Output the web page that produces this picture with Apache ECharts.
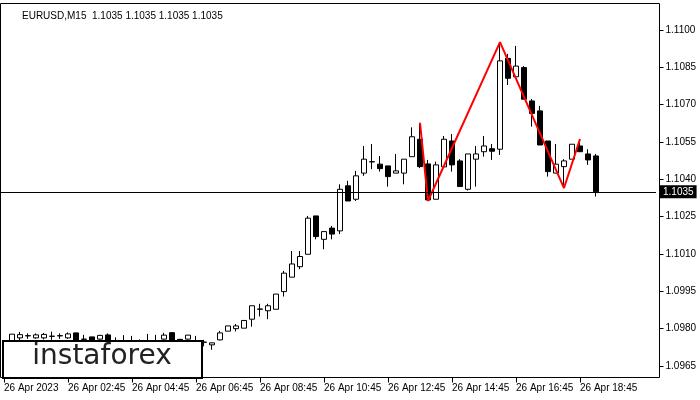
<!DOCTYPE html>
<html><head><meta charset="utf-8">
<script src="https://cdn.jsdelivr.net/npm/echarts@6/dist/echarts.min.js"></script>
<style>html,body{margin:0;padding:0;background:#fff}#c{width:700px;height:400px}</style>
</head><body><div id="c"></div>
<script>
const symbolTitle = 'EURUSD,M15  1.1035 1.1035 1.1035 1.1035';
const tickLabels = ['26 Apr 2023','26 Apr 02:45','26 Apr 04:45','26 Apr 06:45','26 Apr 08:45',
  '26 Apr 10:45','26 Apr 12:45','26 Apr 14:45','26 Apr 16:45','26 Apr 18:45'];
const barsPerTick = 8;
const categoryCount = 82;
const yMin = 1.0965, yMax = 1.1100, yStep = 0.0015;
const lastPrice = 1.1035;
// [open, close, low, high]
const candles = [
  '-',
  [1.09751,1.09778,1.09748,1.09778],
  [1.09763,1.09776,1.09753,1.09787],
  [1.09771,1.09772,1.09759,1.09781],
  [1.09763,1.09775,1.09759,1.09781],
  [1.09763,1.09777,1.09757,1.09783],
  [1.09769,1.09770,1.09755,1.09788],
  [1.09771,1.09772,1.09759,1.09781],
  [1.09763,1.09779,1.09759,1.09785],
  [1.09783,1.09751,1.09749,1.09784],
  [1.09757,1.09758,1.09755,1.09775],
  [1.09767,1.09753,1.09750,1.09767],
  [1.09758,1.09773,1.09755,1.09775],
  [1.09775,1.09753,1.09750,1.09781],
  [1.09750,1.09748,1.09740,1.09765],
  [1.09750,1.09748,1.09740,1.09774],
  [1.09750,1.09748,1.09740,1.09771],
  [1.09752,1.09750,1.09742,1.09757],
  [1.09750,1.09748,1.09740,1.09779],
  [1.09750,1.09752,1.09740,1.09775],
  [1.09758,1.09774,1.09755,1.09783],
  [1.09784,1.09752,1.09750,1.09785],
  [1.09757,1.09755,1.09750,1.09759],
  [1.09758,1.09774,1.09755,1.09774],
  [1.09752,1.09750,1.09745,1.09771],
  [1.09745,1.09746,1.09729,1.09755],
  [1.09735,1.09743,1.09715,1.09745],
  [1.09755,1.09783,1.09753,1.09791],
  [1.09790,1.09811,1.09790,1.09811],
  [1.09800,1.09811,1.09789,1.09819],
  [1.09802,1.09833,1.09802,1.09833],
  [1.09838,1.09892,1.09808,1.09892],
  [1.09878,1.09879,1.09849,1.09900],
  [1.09872,1.09892,1.09838,1.09900],
  [1.09878,1.09939,1.09878,1.09939],
  [1.09949,1.10023,1.09929,1.10032],
  [1.10007,1.10060,1.10007,1.10112],
  [1.10049,1.10090,1.10039,1.10112],
  [1.10099,1.10244,1.10099,1.10253],
  [1.10253,1.10170,1.10159,1.10253],
  [1.10159,1.10190,1.10119,1.10190],
  [1.10204,1.10180,1.10159,1.10213],
  [1.10193,1.10360,1.10180,1.10380],
  [1.10374,1.10313,1.10313,1.10394],
  [1.10320,1.10414,1.10313,1.10434],
  [1.10425,1.10481,1.10414,1.10534],
  [1.10470,1.10471,1.10441,1.10542],
  [1.10461,1.10443,1.10431,1.10494],
  [1.10454,1.10411,1.10371,1.10454],
  [1.10425,1.10434,1.10425,1.10502],
  [1.10425,1.10481,1.10380,1.10481],
  [1.10491,1.10571,1.10491,1.10609],
  [1.10561,1.10451,1.10445,1.10627],
  [1.10462,1.10317,1.10313,1.10478],
  [1.10320,1.10458,1.10320,1.10471],
  [1.10450,1.10561,1.10450,1.10574],
  [1.10554,1.10458,1.10431,1.10582],
  [1.10474,1.10371,1.10371,1.10481],
  [1.10360,1.10502,1.10355,1.10502],
  [1.10481,1.10502,1.10371,1.10534],
  [1.10511,1.10534,1.10491,1.10574],
  [1.10523,1.10513,1.10478,1.10542],
  [1.10521,1.10876,1.10498,1.10951],
  [1.10886,1.10806,1.10779,1.10904],
  [1.10812,1.10855,1.10812,1.10936],
  [1.10849,1.10722,1.10722,1.10855],
  [1.10715,1.10665,1.10612,1.10723],
  [1.10675,1.10538,1.10538,1.10695],
  [1.10554,1.10431,1.10411,1.10554],
  [1.10425,1.10461,1.10425,1.10542],
  [1.10451,1.10474,1.10365,1.10481],
  [1.10481,1.10541,1.10481,1.10541],
  [1.10534,1.10511,1.10511,1.10562],
  [1.10502,1.10478,1.10458,1.10521],
  [1.10494,1.10350,1.10331,1.10502]
];
// zigzag pattern: [bar index, price]
const pattern = [[52,1.10627],[53,1.10313],[62,1.10951],[70,1.10365],[72,1.10562]];
const logoText = 'instaforex';

const categories = [];
for (let i = 0; i < categoryCount; i++) categories.push(String(i));
const isTick = (idx) => idx % barsPerTick === 0 && idx / barsPerTick < tickLabels.length;
const FONT = 'Liberation Sans';

const chart = echarts.init(document.getElementById('c'), null, {renderer: 'canvas'});
chart.setOption({
  animation: false,
  backgroundColor: '#ffffff',
  title: {
    text: symbolTitle, left: 17, top: 6,
    textStyle: {fontSize: 10, fontWeight: 'normal', color: '#000', fontFamily: FONT}
  },
  grid: {left: 0, top: 30, width: 656, height: 336, show: false},
  xAxis: {
    type: 'category', data: categories, boundaryGap: true, offset: 11.5,
    axisLine: {show: false},
    axisTick: {show: true, interval: (i) => isTick(i), alignWithLabel: true, length: 5, lineStyle: {color: '#000'}},
    axisLabel: {
      interval: (i) => isTick(i), align: 'left', margin: 6,
      formatter: (v, i) => isTick(i) ? tickLabels[i / barsPerTick] : '',
      color: '#000', fontSize: 10, fontFamily: FONT
    },
    splitLine: {show: false}
  },
  yAxis: {
    type: 'value', position: 'right', min: yMin, max: yMax, interval: yStep, offset: 3.5,
    axisLine: {show: false},
    axisTick: {show: true, length: 4, lineStyle: {color: '#000'}},
    axisLabel: {formatter: (v) => v.toFixed(4), color: '#000', fontSize: 10, fontFamily: FONT, margin: 6},
    splitLine: {show: false}
  },
  series: [
    {
      type: 'candlestick', data: candles, barWidth: 5,
      itemStyle: {color: '#ffffff', color0: '#000000', borderColor: '#000000', borderColor0: '#000000', borderWidth: 1},
      z: 3
    },
    {
      type: 'line', data: pattern, symbol: 'none', z: 4,
      lineStyle: {color: '#ff0000', width: 2},
      markLine: {
        silent: true, symbol: ['none', 'none'], animation: false, precision: 4,
        lineStyle: {color: '#000', width: 1, type: 'solid'},
        label: {
          show: true, position: 'end', distance: 4, formatter: lastPrice.toFixed(4),
          color: '#fff', backgroundColor: '#000', padding: [2, 3, 1, 3], fontSize: 10, fontFamily: FONT
        },
        emphasis: {disabled: true},
        data: [{yAxis: lastPrice}]
      }
    }
  ],
  graphic: [
    {type: 'rect', shape: {x: 0.5, y: 3.5, width: 659, height: 374}, style: {fill: 'none', stroke: '#000', lineWidth: 1}, z: 1, silent: true},
    {type: 'group', z: 100, children: [
      {type: 'rect', shape: {x: 3, y: 341, width: 199, height: 37}, style: {fill: '#fff', stroke: '#000', lineWidth: 2}, z: 100},
      {type: 'text', x: 102, y: 357, z: 101, style: {text: logoText, fill: '#222', font: '28px "DejaVu Sans"', textAlign: 'center', textVerticalAlign: 'middle'}}
    ]}
  ]
});
</script>
</body></html>
